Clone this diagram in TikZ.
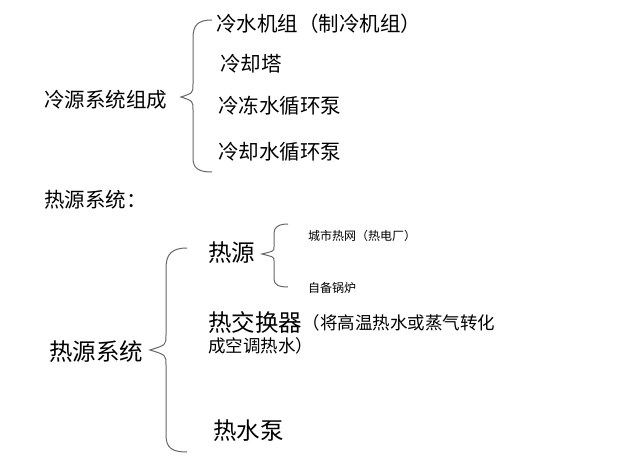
\documentclass[tikz,border=0pt]{standalone}
\usepackage{fontspec}
\setmainfont{Noto Sans CJK SC}
\begin{document}
\begin{tikzpicture}[x=1pt,y=-1pt,
  top/.style={anchor=west,inner sep=0,font=\fontsize{20.5}{24}\selectfont},
  big/.style={anchor=west,inner sep=0,font=\fontsize{23.5}{28}\selectfont},
  mid/.style={anchor=west,inner sep=0,font=\fontsize{17.5}{21}\selectfont},
  small/.style={anchor=west,inner sep=0,font=\fontsize{12}{14}\selectfont},
  br/.style={line width=1pt,draw=black!60}]
\useasboundingbox (0,0) rectangle (626,473);
\node[top] (l0) at (44,100) {冷源系统组成};
\node[top] (l1) at (216,24) {冷水机组（制冷机组）};
\node[top] (l2) at (220,64) {冷却塔};
\node[top] (l3) at (218,106) {冷冻水循环泵};
\node[top] (l4) at (218,152) {冷却水循环泵};
\node[top] (h0) at (44,200) {热源系统：};
\node[big] (h1) at (49,352) {热源系统};
\node[big] (r1) at (208,253) {热源};
\node[small] (s1) at (308,236) {城市热网（热电厂）};
\node[small] (s2) at (308,288) {自备锅炉};
\node[big] (r2) at (208,323) {热交换器};
\node[mid] (r2b) at (r2.east) {（将高温热水或蒸气转化};
\node[mid] (r2c) at (208,346) {成空调热水）};
\node[big] (r3) at (213,431) {热水泵};
\draw[br] (212,20) .. controls (198,20) and (193,25) .. (193,38) -- (193,84)
  .. controls (193,93) .. (181,97) .. controls (193,101) .. (193,110) -- (193,158)
  .. controls (193,168) and (198,172) .. (212,172);
\draw[br] (187,248) .. controls (172,248) and (166,254) .. (166,268) -- (166,335)
  .. controls (166,345) .. (150,350) .. controls (166,355) .. (166,365) -- (166,435)
  .. controls (166,448) and (172,452) .. (187,452);
\draw[br] (288,224) .. controls (279,224) and (274,227) .. (274,233) -- (274,247)
  .. controls (274,251) .. (262,254) .. controls (274,257) .. (274,261) -- (274,279)
  .. controls (274,285) and (279,287) .. (288,287);
\end{tikzpicture}
\end{document}
